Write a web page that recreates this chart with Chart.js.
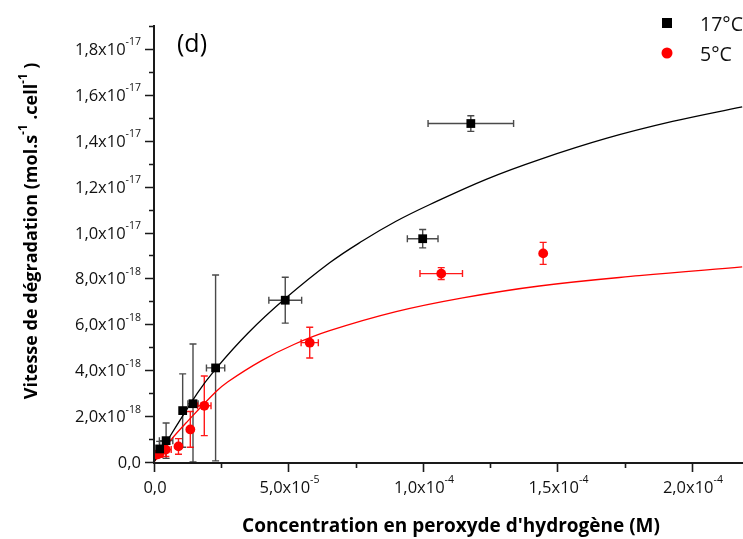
<!DOCTYPE html>
<html><head><meta charset="utf-8">
<script src="https://cdn.jsdelivr.net/npm/chart.js@4/dist/chart.umd.min.js"></script>
<style>html,body{margin:0;padding:0;background:#fff;overflow:hidden}canvas{display:block}</style>
</head><body>
<canvas id="c" width="743" height="539"></canvas>
<script>
const FONT = '"Open Sans", "DejaVu Sans", sans-serif';

// ---- data (x: M, y: mol.s-1.cell-1) ----
const conc17    = [0.21e-5, 0.45e-5, 1.066e-5, 1.45e-5, 2.29e-5, 4.88e-5, 9.99e-5, 11.78e-5];
const rate17    = [0.57e-18, 0.93e-18, 2.24e-18, 2.54e-18, 4.10e-18, 7.05e-18, 9.73e-18, 14.75e-18];
const rate17Err = [0.33e-18, 0.77e-18, 1.60e-18, 2.60e-18, 4.05e-18, 1.00e-18, 0.40e-18, 0.34e-18];
const conc17Err = [0.10e-5, 0.25e-5, 0.10e-5, 0.19e-5, 0.34e-5, 0.61e-5, 0.57e-5, 1.59e-5];

const conc5    = [0.11e-5, 0.22e-5, 0.44e-5, 0.91e-5, 1.35e-5, 1.87e-5, 5.79e-5, 10.68e-5, 14.47e-5];
const rate5    = [0.32e-18, 0.40e-18, 0.54e-18, 0.68e-18, 1.42e-18, 2.45e-18, 5.20e-18, 8.21e-18, 9.09e-18];
const rate5Err = [0.15e-18, 0.20e-18, 0.30e-18, 0.34e-18, 0.78e-18, 1.30e-18, 0.67e-18, 0.26e-18, 0.48e-18];
const conc5Err = [0.05e-5, 0.10e-5, 0.20e-5, 0.10e-5, 0.05e-5, 0.25e-5, 0.32e-5, 0.79e-5, 0.03e-5];

// fitted curves
const fit17X = [0, 1.62e-5, 2.29e-5, 3.5e-5, 4.88e-5, 6.53e-5, 7.76e-5, 9.0e-5, 10.24e-5, 12.35e-5, 14.33e-5, 16.81e-5, 19.28e-5, 21.87e-5];
const fit17Y = [0, 3.01e-18, 4.05e-18, 5.62e-18, 7.12e-18, 8.68e-18, 9.64e-18, 10.49e-18, 11.21e-18, 12.32e-18, 13.18e-18, 14.10e-18, 14.84e-18, 15.48e-18];
const fit5X  = [0, 0.6e-5, 1.23e-5, 2.32e-5, 2.75e-5, 4.0e-5, 5.2e-5, 6.53e-5, 9.0e-5, 11.48e-5, 14.33e-5, 18.04e-5, 21.87e-5];
const fit5Y  = [0, 0.92e-18, 1.75e-18, 3.08e-18, 3.50e-18, 4.42e-18, 5.12e-18, 5.72e-18, 6.55e-18, 7.15e-18, 7.67e-18, 8.12e-18, 8.50e-18];

const seriesLabels = ['17°C', '5°C'];

// ---- axes ----
const xMajorTicks = [0, 5e-5, 1e-4, 1.5e-4, 2e-4];
const xTickLabels = ['0,0', '5,0x10^-5', '1,0x10^-4', '1,5x10^-4', '2,0x10^-4'];
const xMinorTicks = [2.5e-5, 7.5e-5, 1.25e-4, 1.75e-4];
const yMajorTicks = [0, 2e-18, 4e-18, 6e-18, 8e-18, 1e-17, 1.2e-17, 1.4e-17, 1.6e-17, 1.8e-17];
const yTickLabels = ['0,0', '2,0x10^-18', '4,0x10^-18', '6,0x10^-18', '8,0x10^-18', '1,0x10^-17', '1,2x10^-17', '1,4x10^-17', '1,6x10^-17', '1,8x10^-17'];
const yMinorTicks = [1e-18, 3e-18, 5e-18, 7e-18, 9e-18, 1.1e-17, 1.3e-17, 1.5e-17, 1.7e-17, 1.9e-17];
const xTitle = "Concentration en peroxyde d'hydrogène (M)";
const yTitle = 'Vitesse de dégradation (mol.s^-1 .cell^-1 )';
const panelLabel = '(d)';

const pts = (xs, ys) => xs.map((x, i) => ({x, y: ys[i]}));

function drawSup(ctx, str, x, y, size, supSize, weight, align) {
  const segs = [];
  const re = /\^(\S+)/g; let last = 0, m;
  while ((m = re.exec(str))) {
    if (m.index > last) segs.push({t: str.slice(last, m.index), s: false});
    segs.push({t: m[1], s: true});
    last = re.lastIndex;
  }
  if (last < str.length) segs.push({t: str.slice(last), s: false});
  let total = 0;
  segs.forEach(sg => { ctx.font = `${weight} ${sg.s ? supSize : size}px ${FONT}`; sg.w = ctx.measureText(sg.t).width; total += sg.w; });
  let cx = align === 'right' ? x - total : align === 'center' ? x - total / 2 : x;
  ctx.textAlign = 'left'; ctx.textBaseline = 'alphabetic';
  segs.forEach(sg => {
    ctx.font = `${weight} ${sg.s ? supSize : size}px ${FONT}`;
    ctx.fillText(sg.t, cx, sg.s ? y - size * 0.58 : y);
    cx += sg.w;
  });
  return total;
}

const errPlugin = {
  id: 'errbars',
  beforeDatasetsDraw(chart) {
    const {ctx, scales: {x, y}} = chart;
    const sets = [
      {xs: conc17, ys: rate17, ex: conc17Err, ey: rate17Err, color: '#4a4a4a'},
      {xs: conc5, ys: rate5, ex: conc5Err, ey: rate5Err, color: 'rgba(255,0,0,0.9)'}
    ];
    ctx.save();
    ctx.lineWidth = 1.4;
    const cap = 3.5;
    sets.forEach(s => {
      ctx.strokeStyle = s.color;
      s.xs.forEach((xv, i) => {
        const px = x.getPixelForValue(xv), py = y.getPixelForValue(s.ys[i]);
        const yt = y.getPixelForValue(s.ys[i] + s.ey[i]);
        const yb = y.getPixelForValue(Math.max(0, s.ys[i] - s.ey[i]));
        const xl = x.getPixelForValue(xv - s.ex[i]);
        const xr = x.getPixelForValue(xv + s.ex[i]);
        ctx.beginPath();
        ctx.moveTo(px, yt); ctx.lineTo(px, yb);
        ctx.moveTo(px - cap, yt); ctx.lineTo(px + cap, yt);
        ctx.moveTo(px - cap, yb); ctx.lineTo(px + cap, yb);
        ctx.moveTo(xl, py); ctx.lineTo(xr, py);
        ctx.moveTo(xl, py - cap); ctx.lineTo(xl, py + cap);
        ctx.moveTo(xr, py - cap); ctx.lineTo(xr, py + cap);
        ctx.stroke();
      });
    });
    ctx.restore();
  }
};

const axesPlugin = {
  id: 'axesDeco',
  afterDraw(chart) {
    const {ctx, chartArea: a, scales: {x, y}} = chart;
    ctx.save();
    ctx.strokeStyle = '#1a1a1a'; ctx.fillStyle = '#1a1a1a';
    ctx.lineWidth = 2;
    ctx.beginPath();
    ctx.moveTo(a.left, y.getPixelForValue(1.9e-17) - 1); ctx.lineTo(a.left, a.bottom + 1);
    ctx.lineTo(a.right, a.bottom + 1);
    ctx.stroke();
    ctx.lineWidth = 1.6;
    ctx.beginPath();
    yMajorTicks.forEach(v => { const p = Math.round(y.getPixelForValue(v)) + 0.5; ctx.moveTo(a.left, p); ctx.lineTo(a.left - 9, p); });
    yMinorTicks.forEach(v => { const p = Math.round(y.getPixelForValue(v)) + 0.5; ctx.moveTo(a.left, p); ctx.lineTo(a.left - 5, p); });
    xMajorTicks.forEach(v => { const p = Math.round(x.getPixelForValue(v)) + 0.5; ctx.moveTo(p, a.bottom); ctx.lineTo(p, a.bottom + 10); });
    xMinorTicks.forEach(v => { const p = Math.round(x.getPixelForValue(v)) + 0.5; ctx.moveTo(p, a.bottom); ctx.lineTo(p, a.bottom + 6); });
    ctx.stroke();
    ctx.fillStyle = '#111';
    yMajorTicks.forEach((v, i) => {
      drawSup(ctx, yTickLabels[i], a.left - 13, y.getPixelForValue(v) + 6, 16.5, 10.5, 'normal', 'right');
    });
    xMajorTicks.forEach((v, i) => {
      drawSup(ctx, xTickLabels[i], x.getPixelForValue(v) + 1, 493, 16.5, 10.5, 'normal', 'center');
    });
    ctx.fillStyle = '#000';
    drawSup(ctx, xTitle, 451, 532, 19, 12, 'bold', 'center');
    ctx.save();
    ctx.translate(37, 231);
    ctx.rotate(-Math.PI / 2);
    drawSup(ctx, yTitle, 0, 0, 18, 11.5, 'bold', 'center');
    ctx.restore();
    ctx.font = `normal 25px ${FONT}`;
    ctx.textAlign = 'left'; ctx.textBaseline = 'alphabetic';
    ctx.fillText(panelLabel, 177, 52);
    const ds = chart.data.datasets;
    ctx.fillStyle = ds[0].backgroundColor;
    ctx.fillRect(662, 18, 10, 10);
    ctx.fillStyle = ds[1].backgroundColor;
    ctx.beginPath(); ctx.arc(667, 53, 5.5, 0, Math.PI * 2); ctx.fill();
    ctx.fillStyle = '#111';
    ctx.font = `normal 19.5px ${FONT}`;
    ctx.fillText(seriesLabels[0], 700, 31);
    ctx.fillText(seriesLabels[1], 700, 61);
    ctx.restore();
  }
};

new Chart(document.getElementById('c').getContext('2d'), {
  type: 'scatter',
  data: {
    datasets: [
      {label: seriesLabels[0], data: pts(conc17, rate17), pointStyle: 'rect', pointRadius: 6.2, pointHoverRadius: 6.2,
       backgroundColor: '#000', borderColor: '#000', borderWidth: 0},
      {label: seriesLabels[1], data: pts(conc5, rate5), pointStyle: 'circle', pointRadius: 4.9, pointHoverRadius: 4.9,
       backgroundColor: '#ff0000', borderColor: '#ff0000', borderWidth: 0},
      {label: 'fit ' + seriesLabels[0], data: pts(fit17X, fit17Y), showLine: true, pointRadius: 0, borderColor: '#000',
       borderWidth: 1.3, tension: 0.4, fill: false},
      {label: 'fit ' + seriesLabels[1], data: pts(fit5X, fit5Y), showLine: true, pointRadius: 0, borderColor: '#ff0000',
       borderWidth: 1.3, tension: 0.4, fill: false}
    ]
  },
  options: {
    responsive: false, animation: false, devicePixelRatio: 1,
    layout: {autoPadding: false, padding: {top: 26, left: 0, right: 0, bottom: 0}},
    plugins: {legend: {display: false}, tooltip: {enabled: false}},
    scales: {
      x: {type: 'linear', min: 0, max: 2.19e-4, grid: {display: false}, border: {display: false},
          ticks: {display: false}, afterFit(s) { s.height = 77; }},
      y: {type: 'linear', min: 0, max: 1.9e-17, grid: {display: false}, border: {display: false},
          ticks: {display: false}, afterFit(s) { s.width = 154; }}
    }
  },
  plugins: [errPlugin, axesPlugin]
});
</script>
</body></html>
